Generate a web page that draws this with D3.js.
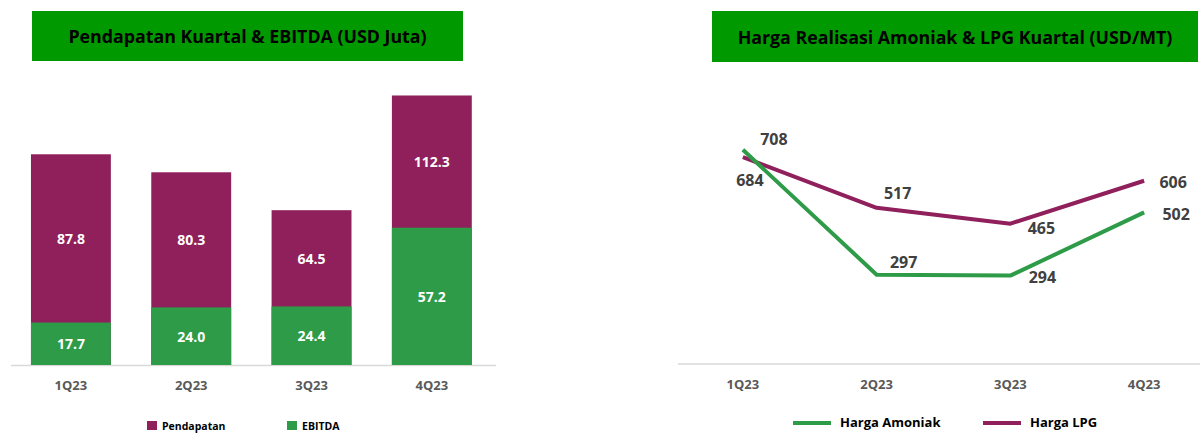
<!DOCTYPE html>
<html><head><meta charset="utf-8">
<script src="https://cdn.jsdelivr.net/npm/d3@7"></script>
<style>
html,body{margin:0;padding:0;background:#fff;}
svg{display:block;font-family:"Open Sans","Noto Sans",sans-serif;}
</style></head>
<body>
<svg id="chart" width="1200" height="433"></svg>
<script>
// ---- data ----
const quarters = ["1Q23","2Q23","3Q23","4Q23"];
const pendapatan = [87.8, 80.3, 64.5, 112.3];
const ebitda = [17.7, 24.0, 24.4, 57.2];
const hargaAmoniak = [708, 297, 294, 502];
const hargaLPG = [684, 517, 465, 606];
const leftTitle = "Pendapatan Kuartal & EBITDA (USD Juta)";
const rightTitle = "Harga Realisasi Amoniak & LPG Kuartal (USD/MT)";
const barLegend = ["Pendapatan","EBITDA"];
const lineLegend = ["Harga Amoniak","Harga LPG"];
// label offsets (placement only)
const amoniakLabelOffset = [[31,-11],[27,-13],[32,1],[32,2]];
const lpgLabelOffset = [[7,23],[21,-15],[31,4],[29,1]];

const PURPLE = "#8f205b", GREEN = "#2e9b48", TITLE_GREEN = "#009900";
const svg = d3.select("#chart");

// ---- titles ----
function titleBox(x, y, w, h, text) {
  svg.append("rect").attr("x", x).attr("y", y).attr("width", w).attr("height", h).attr("fill", TITLE_GREEN);
  svg.append("text").attr("x", x + w/2).attr("y", y + h/2).attr("text-anchor","middle")
    .attr("dominant-baseline","central").attr("font-size", 17.8).attr("font-weight", 700)
    .attr("fill", "#000").text(text);
}
titleBox(32, 11, 431, 50, leftTitle);
titleBox(712, 11, 486, 51, rightTitle);

// ---- left bar chart ----
const xB = d3.scaleBand().domain(quarters).range([10.75, 492]).paddingInner(0.336).paddingOuter(0.168);
const yB = d3.scaleLinear().domain([0, 120]).range([365, 77]);

const gB = svg.append("g");
gB.append("line").attr("x1", 11).attr("x2", 496).attr("y1", 365.5).attr("y2", 365.5)
  .attr("stroke", "#d9d9d9").attr("stroke-width", 1.5);

gB.selectAll("rect.p").data(quarters).join("rect").attr("class","p")
  .attr("x", d => xB(d)).attr("width", xB.bandwidth())
  .attr("y", (d,i) => yB(pendapatan[i])).attr("height", (d,i) => yB(0) - yB(pendapatan[i]))
  .attr("fill", PURPLE);
gB.selectAll("rect.e").data(quarters).join("rect").attr("class","e")
  .attr("x", d => xB(d)).attr("width", xB.bandwidth())
  .attr("y", (d,i) => yB(ebitda[i])).attr("height", (d,i) => yB(0) - yB(ebitda[i]))
  .attr("fill", GREEN);

gB.selectAll("text.pl").data(quarters).join("text").attr("class","pl")
  .attr("x", d => xB(d) + xB.bandwidth()/2)
  .attr("y", (d,i) => (yB(pendapatan[i]) + yB(ebitda[i]))/2)
  .attr("text-anchor","middle").attr("dominant-baseline","central")
  .attr("font-size", 14).attr("font-weight", 700).attr("fill", "#fff")
  .text((d,i) => pendapatan[i].toFixed(1));
gB.selectAll("text.el").data(quarters).join("text").attr("class","el")
  .attr("x", d => xB(d) + xB.bandwidth()/2)
  .attr("y", (d,i) => (yB(ebitda[i]) + yB(0))/2)
  .attr("text-anchor","middle").attr("dominant-baseline","central")
  .attr("font-size", 14).attr("font-weight", 700).attr("fill", "#fff")
  .text((d,i) => ebitda[i].toFixed(1));

const axB = gB.append("g").attr("transform","translate(0,365)")
  .call(d3.axisBottom(xB).tickSize(0).tickPadding(16));
axB.select(".domain").remove();
axB.selectAll("text").attr("font-size", 13).attr("font-weight", 700).attr("fill", "#595959")
  .attr("font-family", "'Open Sans','Noto Sans',sans-serif");

// bar legend
const legB = [ {x:147, c:PURPLE}, {x:287, c:GREEN} ];
legB.forEach((l, i) => {
  svg.append("rect").attr("x", l.x).attr("y", 421).attr("width", 10).attr("height", 9).attr("fill", l.c);
  svg.append("text").attr("x", l.x + 15).attr("y", 426).attr("dominant-baseline","central")
    .attr("font-size", 10.5).attr("font-weight", 700).attr("fill", "#000").text(barLegend[i]);
});

// ---- right line chart ----
const xL = d3.scaleBand().domain(quarters).range([676, 1211]).padding(0);
const yL = d3.scaleLinear().domain([0, 800]).range([365, 121.8]);
const cx = d => xL(d) + xL.bandwidth()/2;

const gL = svg.append("g");
gL.append("line").attr("x1", 678).attr("x2", 1200).attr("y1", 364).attr("y2", 364)
  .attr("stroke", "#d9d9d9").attr("stroke-width", 1.5);

const line = d3.line().x((d,i) => cx(quarters[i])).y(d => yL(d));
gL.append("path").datum(hargaLPG).attr("d", line).attr("fill","none")
  .attr("stroke", PURPLE).attr("stroke-width", 4).attr("stroke-linejoin","round");
gL.append("path").datum(hargaAmoniak).attr("d", line).attr("fill","none")
  .attr("stroke", GREEN).attr("stroke-width", 4).attr("stroke-linejoin","round");

function lineLabels(vals, offs) {
  gL.append("g").selectAll("text").data(vals).join("text")
    .attr("x", (d,i) => cx(quarters[i]) + offs[i][0])
    .attr("y", (d,i) => yL(d) + offs[i][1])
    .attr("text-anchor","middle").attr("dominant-baseline","central")
    .attr("font-size", 16).attr("font-weight", 700).attr("fill", "#404040")
    .text(d => d);
}
lineLabels(hargaAmoniak, amoniakLabelOffset);
lineLabels(hargaLPG, lpgLabelOffset);

const axL = gL.append("g").attr("transform","translate(0,364)")
  .call(d3.axisBottom(xL).tickSize(0).tickPadding(16));
axL.select(".domain").remove();
axL.selectAll("text").attr("font-size", 13).attr("font-weight", 700).attr("fill", "#595959")
  .attr("font-family", "'Open Sans','Noto Sans',sans-serif");

const legL = [ {x:793, c:GREEN}, {x:983, c:PURPLE} ];
legL.forEach((l, i) => {
  svg.append("line").attr("x1", l.x).attr("x2", l.x + 38).attr("y1", 423).attr("y2", 423)
    .attr("stroke", l.c).attr("stroke-width", 4);
  svg.append("text").attr("x", l.x + 47).attr("y", 422).attr("dominant-baseline","central")
    .attr("font-size", 13).attr("font-weight", 700).attr("fill", "#000").text(lineLegend[i]);
});
</script>
</body></html>
